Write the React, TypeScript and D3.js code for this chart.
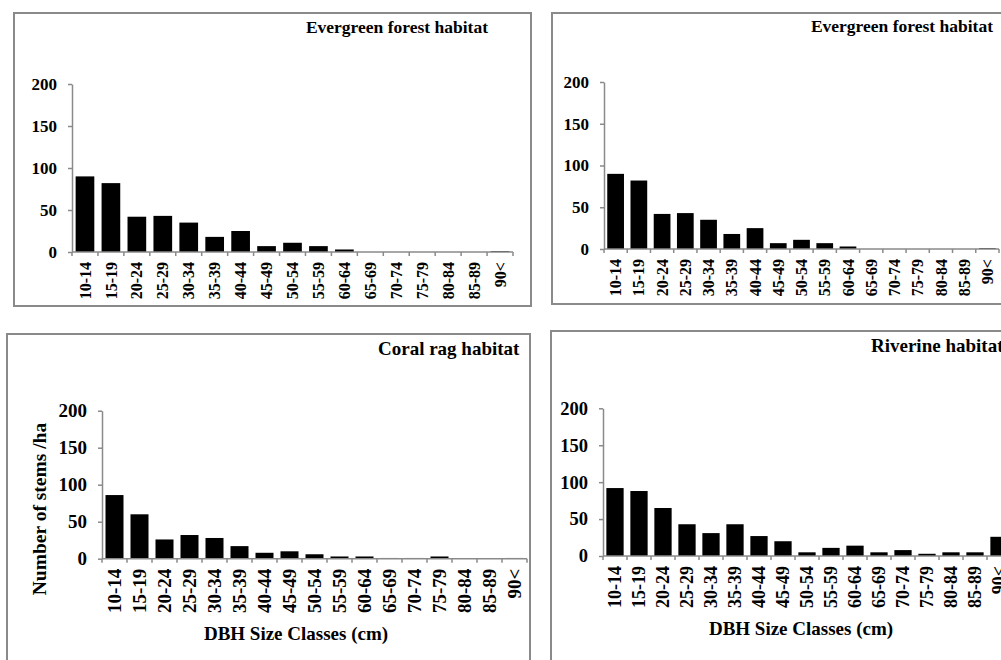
import React, { useEffect, useRef } from 'react';
import * as d3 from 'd3';

// DBH SIZE CLASSES (CM)
const sizeClasses = ['10-14', '15-19', '20-24', '25-29', '30-34', '35-39', '40-44', '45-49', '50-54',
  '55-59', '60-64', '65-69', '70-74', '75-79', '80-84', '85-89', '90<'];

// NUMBER OF STEMS PER HA
const evergreenStems = [90, 82, 42, 43, 35, 18, 25, 7, 11, 7, 3, 0, 0, 0, 0, 0, 1];
const evergreenStemsRepeat = [90, 82, 42, 43, 35, 18, 25, 7, 11, 7, 3, 0, 0, 0, 0, 0, 1];
const coralRagStems = [86, 60, 26, 32, 28, 17, 8, 10, 6, 3, 3, 1, 1, 3, 0, 0, 1];
const riverineStems = [92, 88, 65, 43, 31, 43, 27, 20, 5, 11, 14, 5, 8, 3, 5, 5, 26];

const stemTicks = [0, 50, 100, 150, 200];

const GREY = '#8a8a8a';
const FONT = '"Liberation Serif", "Times New Roman", serif';

// each panel was pasted at its own scale, so every panel keeps its own box and type sizes
const panels = [
  {
    title: 'Evergreen forest habitat', values: evergreenStems,
    frame: { left: 14, top: 13, right: 531, bottom: 306 },
    plot: { left: 72, right: 513, zero: 252, top: 84 },
    titleX: 488, titleY: 33, titleAnchor: 'end', titleSize: 17.5, tickSize: 17, labelSize: 16,
  },
  {
    title: 'Evergreen forest habitat', values: evergreenStemsRepeat,
    frame: { left: 552, top: 13, right: 1020, bottom: 304 },
    plot: { left: 604, right: 999, zero: 249, top: 82 },
    titleX: 993, titleY: 32, titleAnchor: 'end', titleSize: 17.5, tickSize: 17, labelSize: 16,
  },
  {
    title: 'Coral rag habitat', values: coralRagStems,
    frame: { left: 7, top: 334, right: 530, bottom: 700 },
    plot: { left: 102, right: 527, zero: 558.7, top: 410.7 },
    titleX: 378, titleY: 355, titleAnchor: 'start', titleSize: 19, tickSize: 19, labelSize: 19,
    xTitle: 'DBH Size Classes (cm)', xTitleX: 296, xTitleY: 640,
    yTitle: 'Number of stems /ha', yTitleX: 46, yTitleY: 509,
  },
  {
    title: 'Riverine habitat', values: riverineStems,
    frame: { left: 551, top: 331, right: 1020, bottom: 700 },
    plot: { left: 603, right: 1011, zero: 556, top: 408.3 },
    titleX: 871, titleY: 352, titleAnchor: 'start', titleSize: 19, tickSize: 18.5, labelSize: 18,
    xTitle: 'DBH Size Classes (cm)', xTitleX: 801, xTitleY: 635,
  },
];

function drawChart(node: SVGSVGElement) {
  const svg = d3.select(node);
  svg.selectAll('*').remove();

  panels.forEach((p) => {
    const g = svg.append('g');

    //FRAME AROUND THE PANEL
    g.append('rect')
      .attr('x', p.frame.left)
      .attr('y', p.frame.top)
      .attr('width', p.frame.right - p.frame.left)
      .attr('height', p.frame.bottom - p.frame.top)
      .attr('fill', '#fff')
      .attr('stroke', GREY)
      .attr('stroke-width', 2);

    //SCALES
    const x = d3.scaleBand<string>()
      .domain(sizeClasses)
      .range([p.plot.left, p.plot.right])
      .paddingInner(0.28)
      .paddingOuter(0.14);
    const y = d3.scaleLinear()
      .domain([0, 200])
      .range([p.plot.zero, p.plot.top]);

    //BARS
    g.selectAll('rect.bar')
      .data(p.values)
      .enter()
      .append('rect')
      .attr('class', 'bar')
      .attr('x', (_d, i) => x(sizeClasses[i]) as number)
      .attr('y', (d) => y(d))
      .attr('width', x.bandwidth())
      .attr('height', (d) => y(0) - y(d))
      .attr('fill', '#000');

    //Y-AXIS
    const yAxis = g.append('g')
      .attr('transform', 'translate(' + p.plot.left + ',0)')
      .call(d3.axisLeft(y).tickValues(stemTicks).tickSize(4).tickSizeOuter(0).tickPadding(11));
    yAxis.select('.domain').attr('stroke', GREY).attr('stroke-width', 1.5);
    yAxis.selectAll('.tick line').attr('stroke', GREY).attr('stroke-width', 1.5);
    yAxis.selectAll('.tick text')
      .attr('font-family', FONT)
      .attr('font-weight', 'bold')
      .attr('font-size', p.tickSize)
      .attr('fill', '#000');

    //X-AXIS, TICK MARKS BETWEEN THE CLASSES
    const half = (x.step() * x.paddingInner()) / 2;
    const bounds = sizeClasses.map((c) => (x(c) as number) - half).concat([p.plot.right]);
    g.append('line')
      .attr('x1', p.plot.left)
      .attr('x2', p.plot.right)
      .attr('y1', y(0))
      .attr('y2', y(0))
      .attr('stroke', GREY)
      .attr('stroke-width', 1.5);
    g.selectAll('line.xtick')
      .data(bounds)
      .enter()
      .append('line')
      .attr('class', 'xtick')
      .attr('x1', (d) => d)
      .attr('x2', (d) => d)
      .attr('y1', y(0))
      .attr('y2', y(0) + 4)
      .attr('stroke', GREY)
      .attr('stroke-width', 1.5);
    g.selectAll('text.xlab')
      .data(sizeClasses)
      .enter()
      .append('text')
      .attr('class', 'xlab')
      .attr('transform', (d) => 'translate(' + ((x(d) as number) + x.bandwidth() / 2) + ',' + (y(0) + 10) + ') rotate(-90)')
      .attr('text-anchor', 'end')
      .attr('dy', '0.35em')
      .attr('font-family', FONT)
      .attr('font-weight', 'bold')
      .attr('font-size', p.labelSize)
      .text((d) => d);

    //PANEL TITLE
    g.append('text')
      .attr('x', p.titleX)
      .attr('y', p.titleY)
      .attr('text-anchor', p.titleAnchor)
      .attr('font-family', FONT)
      .attr('font-weight', 'bold')
      .attr('font-size', p.titleSize)
      .text(p.title);

    //AXIS TITLES
    if (p.xTitle) {
      g.append('text')
        .attr('x', p.xTitleX)
        .attr('y', p.xTitleY)
        .attr('text-anchor', 'middle')
        .attr('font-family', FONT)
        .attr('font-weight', 'bold')
        .attr('font-size', 19)
        .text(p.xTitle);
    }
    if (p.yTitle) {
      g.append('text')
        .attr('transform', 'translate(' + p.yTitleX + ',' + p.yTitleY + ') rotate(-90)')
        .attr('text-anchor', 'middle')
        .attr('font-family', FONT)
        .attr('font-weight', 'bold')
        .attr('font-size', 19.5)
        .text(p.yTitle);
    }
  });
}

export default function App() {
  const ref = useRef<SVGSVGElement>(null);

  useEffect(() => {
    if (ref.current) drawChart(ref.current);
  }, []);

  return (
    <div style={{ position: 'absolute', left: 0, top: 0 }}>
      <svg ref={ref} width={1001} height={660} style={{ display: 'block', background: '#fff' }} />
    </div>
  );
}
